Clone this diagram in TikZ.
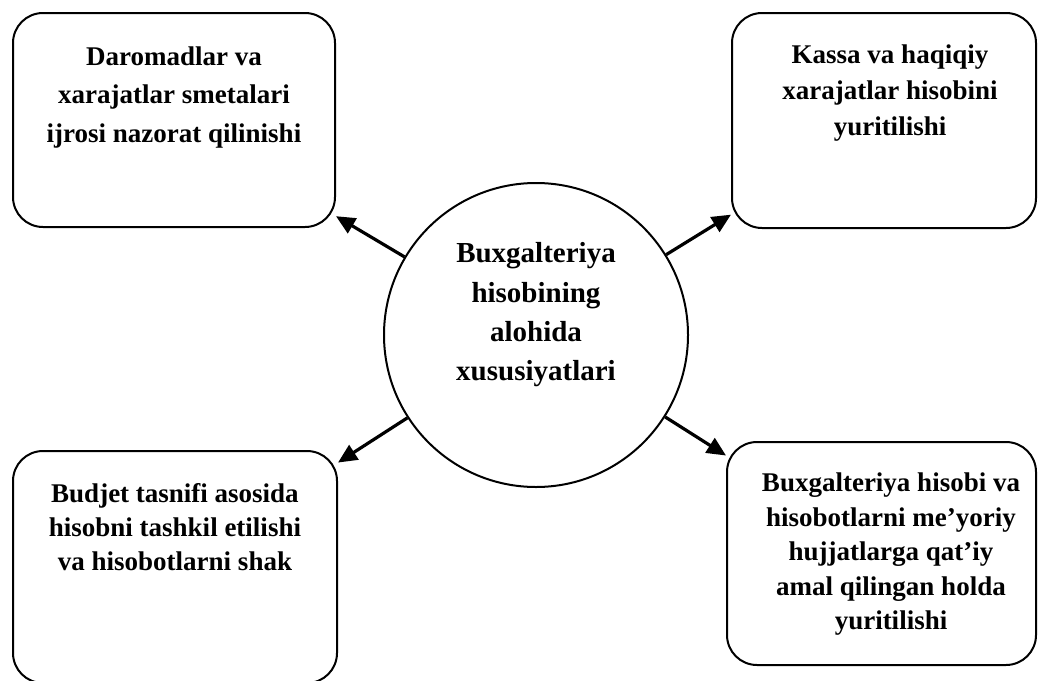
\documentclass[tikz,border=0pt]{standalone}
\usepackage{fontspec}
\setmainfont{Liberation Serif}
\usetikzlibrary{arrows.meta}
\tikzset{
  box/.style={draw,line width=2pt,rounded corners=30pt,inner sep=0pt},
  boxtext/.style={font=\bfseries\fontsize{27}{#1}\selectfont,align=center,anchor=north,inner sep=0pt},
  hub/.style={draw,circle,line width=2pt,minimum size=304pt,inner sep=0pt},
  link/.style={-{Triangle[length=19pt,width=17pt]},line width=3.2pt}
}
\begin{document}
\begin{tikzpicture}[x=1pt,y=-1pt]
        \useasboundingbox (0,0) rectangle (1038,680);
        % centre
        \node[hub] (hub) at (536,335){};
        \node[font=\bfseries\fontsize{29}{39.3}\selectfont,align=center,inner sep=0pt] (hubtext) at (536,315)
          {Buxgalteriya\\hisobining\\alohida\\xususiyatlari};
        % four boxes
        \node[box,minimum width=322pt,minimum height=214pt] (tl) at (174,120){};
        \node[boxtext=38.5] (tltext) at (174,46.5){Daromadlar va\\xarajatlar smetalari\\ijrosi nazorat qilinishi};
        \node[box,minimum width=304pt,minimum height=215pt] (tr) at (884,120.5){};
        \node[boxtext=36] (trtext) at (890,45){Kassa va haqiqiy\\xarajatlar hisobini\\yuritilishi};
        \node[box,minimum width=324pt,minimum height=232pt] (bl) at (175,567){};
        \node[boxtext=34] (bltext) at (175,483){Budjet tasnifi asosida\\hisobni tashkil etilishi\\va hisobotlarni shak};
        \node[box,minimum width=309pt,minimum height=223pt] (br) at (881.5,553.5){};
        \node[boxtext=34.5] (brtext) at (891,473){Buxgalteriya hisobi va\\hisobotlarni me’yoriy\\hujjatlarga qat’iy\\amal qilingan holda\\yuritilishi};
        % arrows
        \foreach \b in {tl,tr,bl,br}{\draw[link] (hub) -- (\b);}
      \end{tikzpicture}
\end{document}
